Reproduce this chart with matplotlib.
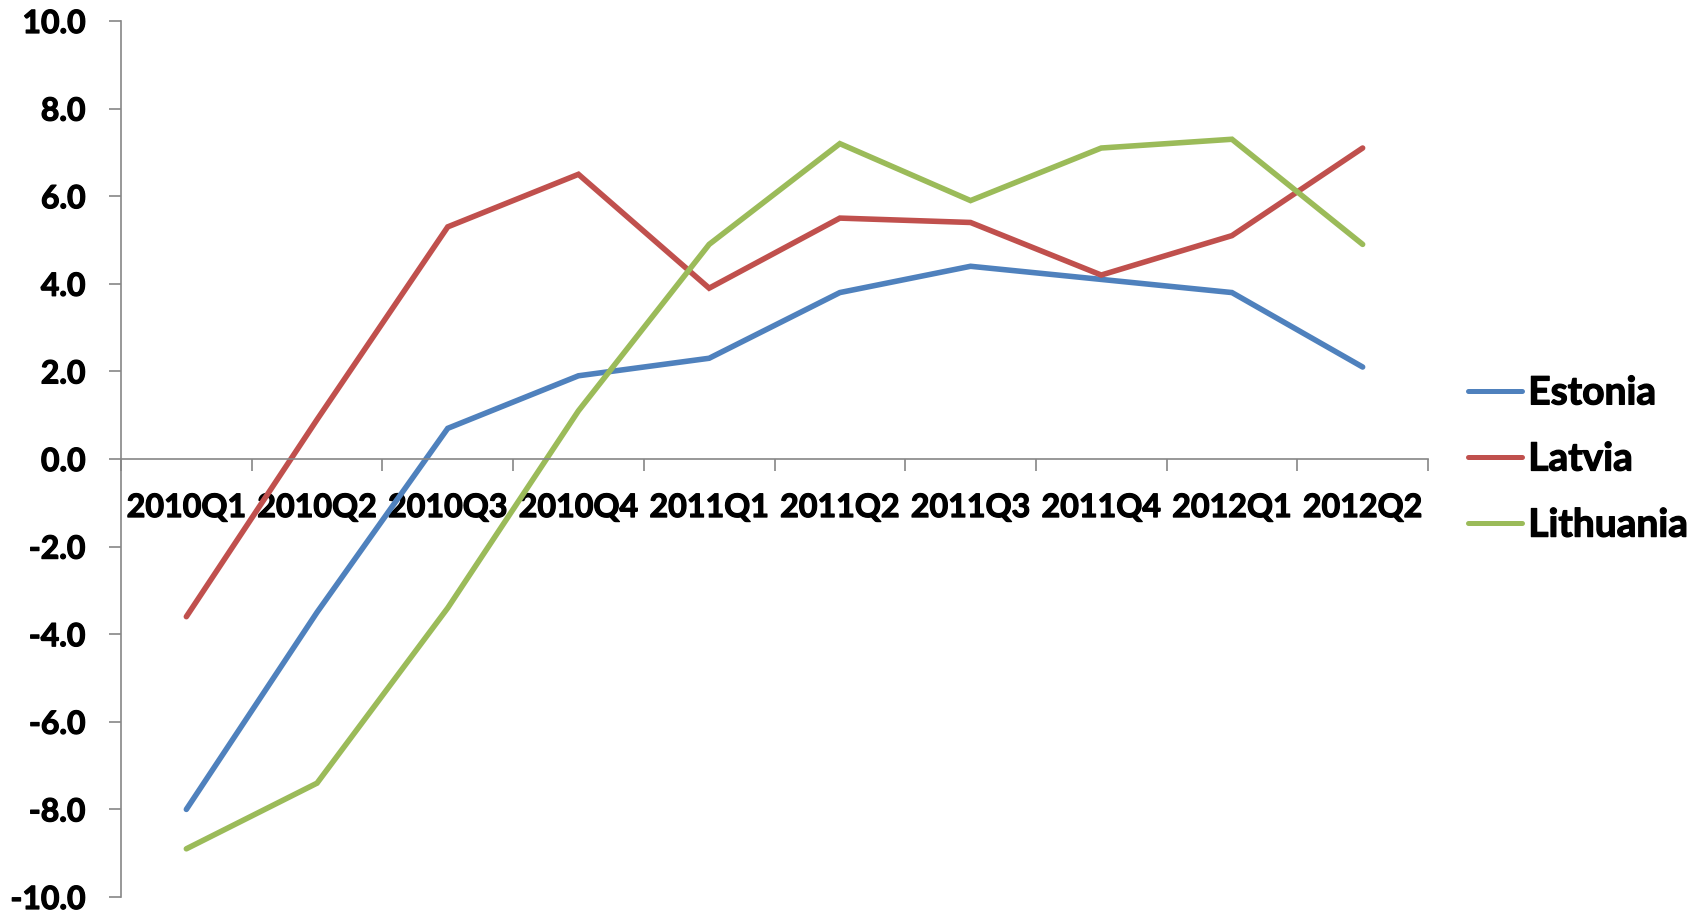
import matplotlib
matplotlib.use("Agg")
import matplotlib.pyplot as plt
import matplotlib.patheffects as pe
import numpy as np

# ================= DATA =================
quarters = ["2010Q1", "2010Q2", "2010Q3", "2010Q4", "2011Q1",
            "2011Q2", "2011Q3", "2011Q4", "2012Q1", "2012Q2"]
estonia = [-8.0, -3.5, 0.7, 1.9, 2.3, 3.8, 4.4, 4.1, 3.8, 2.1]
latvia = [-3.6, 0.9, 5.3, 6.5, 3.9, 5.5, 5.4, 4.2, 5.1, 7.1]
lithuania = [-8.9, -7.4, -3.4, 1.1, 4.9, 7.2, 5.9, 7.1, 7.3, 4.9]

series_names = ["Estonia", "Latvia", "Lithuania"]
colors = ["#4F81BD", "#C0504D", "#9BBB59"]
y_ticks = [-10, -8, -6, -4, -2, 0, 2, 4, 6, 8, 10]

# ================= STYLE =================
plt.rcParams["font.family"] = ["Lato", "DejaVu Sans"]
plt.rcParams["font.weight"] = "bold"
AXIS_GREY = "#868686"
HEAVY = [pe.withStroke(linewidth=0.9, foreground="black")]

fig = plt.figure(figsize=(17.07, 9.16), dpi=100)
ax = fig.add_axes([121 / 1707, 1 - 897 / 916, (1428 - 121) / 1707, (897 - 21) / 916])

x = np.arange(len(quarters))
for vals, name, col in zip([estonia, latvia, lithuania], series_names, colors):
    ax.plot(x, vals, color=col, lw=4.0, label=name, solid_capstyle="round",
            solid_joinstyle="miter")

ax.set_xlim(-0.5, len(quarters) - 0.5)
ax.set_ylim(-10, 10)

# y axis
ax.set_yticks(y_ticks)
ax.set_yticklabels([f"{v:.1f}" for v in y_ticks])
ax.tick_params(axis="y", direction="out", length=8.5, width=1.2, color=AXIS_GREY,
               pad=17, labelsize=23)

# category axis sits on the zero line
ax.spines["bottom"].set_position(("data", 0))
ax.set_xticks(np.arange(len(quarters) + 1) - 0.5)
ax.set_xticklabels([])
ax.set_xticks(x, minor=True)
ax.set_xticklabels(quarters, minor=True)
ax.tick_params(axis="x", which="major", direction="out", length=8.5, width=1.2,
               color=AXIS_GREY)
ax.tick_params(axis="x", which="minor", length=0, pad=24.5, labelsize=23.2)

for side in ["top", "right"]:
    ax.spines[side].set_visible(False)
for side in ["left", "bottom"]:
    ax.spines[side].set_color(AXIS_GREY)
    ax.spines[side].set_linewidth(1.2)

leg = fig.legend(loc="center left", bbox_to_anchor=(1468 / 1707, 1 - 459 / 916),
                 frameon=False, fontsize=28, handlelength=1.4, handletextpad=0.15,
                 labelspacing=0.8, borderpad=0, borderaxespad=0)
for line in leg.get_lines():
    line.set_linewidth(3.6)

for t in ax.get_yticklabels() + ax.get_xticklabels(minor=True) + leg.get_texts():
    t.set_path_effects(HEAVY)

fig.savefig("out.png", dpi=100)
